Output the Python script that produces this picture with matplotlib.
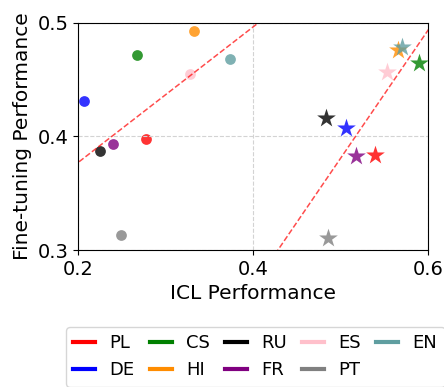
import numpy as np
from matplotlib import pyplot as plt
from matplotlib.lines import Line2D

# languages and colours
langs = ["PL", "DE", "CS", "HI", "RU", "FR", "ES", "PT", "EN"]
colors = ["red", "blue", "green", "darkorange", "black", "purple", "pink", "gray", "cadetblue"]

# first model (circles)
icl_a = [0.2773, 0.2072, 0.2678, 0.3322, 0.2248, 0.2396, 0.3280, 0.2495, 0.3740]
ft_a = [0.3975, 0.4315, 0.4720, 0.4927, 0.3872, 0.3934, 0.4553, 0.3132, 0.4686]

# second model (stars)
icl_b = [0.5398, 0.5067, 0.5900, 0.5653, 0.4830, 0.5180, 0.5531, 0.4857, 0.5699]
ft_b = [0.3837, 0.4072, 0.4645, 0.4762, 0.4166, 0.3830, 0.4566, 0.3106, 0.4786]

fig = plt.figure(figsize=(4.44, 3.87), dpi=100)
ax = fig.add_axes([0.1757, 0.354, 0.788, 0.5866])

for i, lang in enumerate(langs):
    ax.scatter(icl_a[i], ft_a[i], color=colors[i], marker="o", s=60, alpha=0.8, linewidths=0)
    ax.scatter(icl_b[i], ft_b[i], color=colors[i], marker="*", s=200, alpha=0.8, linewidths=0)

# trend lines
xs = np.linspace(0.15, 0.65, 100)
for xv, yv in [(icl_a, ft_a), (icl_b, ft_b)]:
    k, b = np.polyfit(xv, yv, 1)
    ax.plot(xs, k * xs + b, color="red", linestyle="--", linewidth=1.1, alpha=0.7)

ax.set_xlim(0.2, 0.6)
ax.set_ylim(0.3, 0.5)
ax.set_xticks([0.2, 0.4, 0.6])
ax.set_yticks([0.3, 0.4, 0.5])
ax.tick_params(labelsize=14)
ax.grid(True, linestyle="--", color="lightgray", linewidth=0.8)
ax.set_xlabel("ICL Performance", fontsize=14.5)
ax.set_ylabel("Fine-tuning Performance", fontsize=14.5)

handles = [Line2D([0], [0], color=c, linewidth=3) for c in colors]
fig.legend(handles, langs, loc="upper center", bbox_to_anchor=(0.575, 0.178),
           ncol=5, fontsize=13, handlelength=1.2, columnspacing=0.85,
           handletextpad=0.8, labelspacing=0.5)

plt.savefig("out.png", dpi=100)
